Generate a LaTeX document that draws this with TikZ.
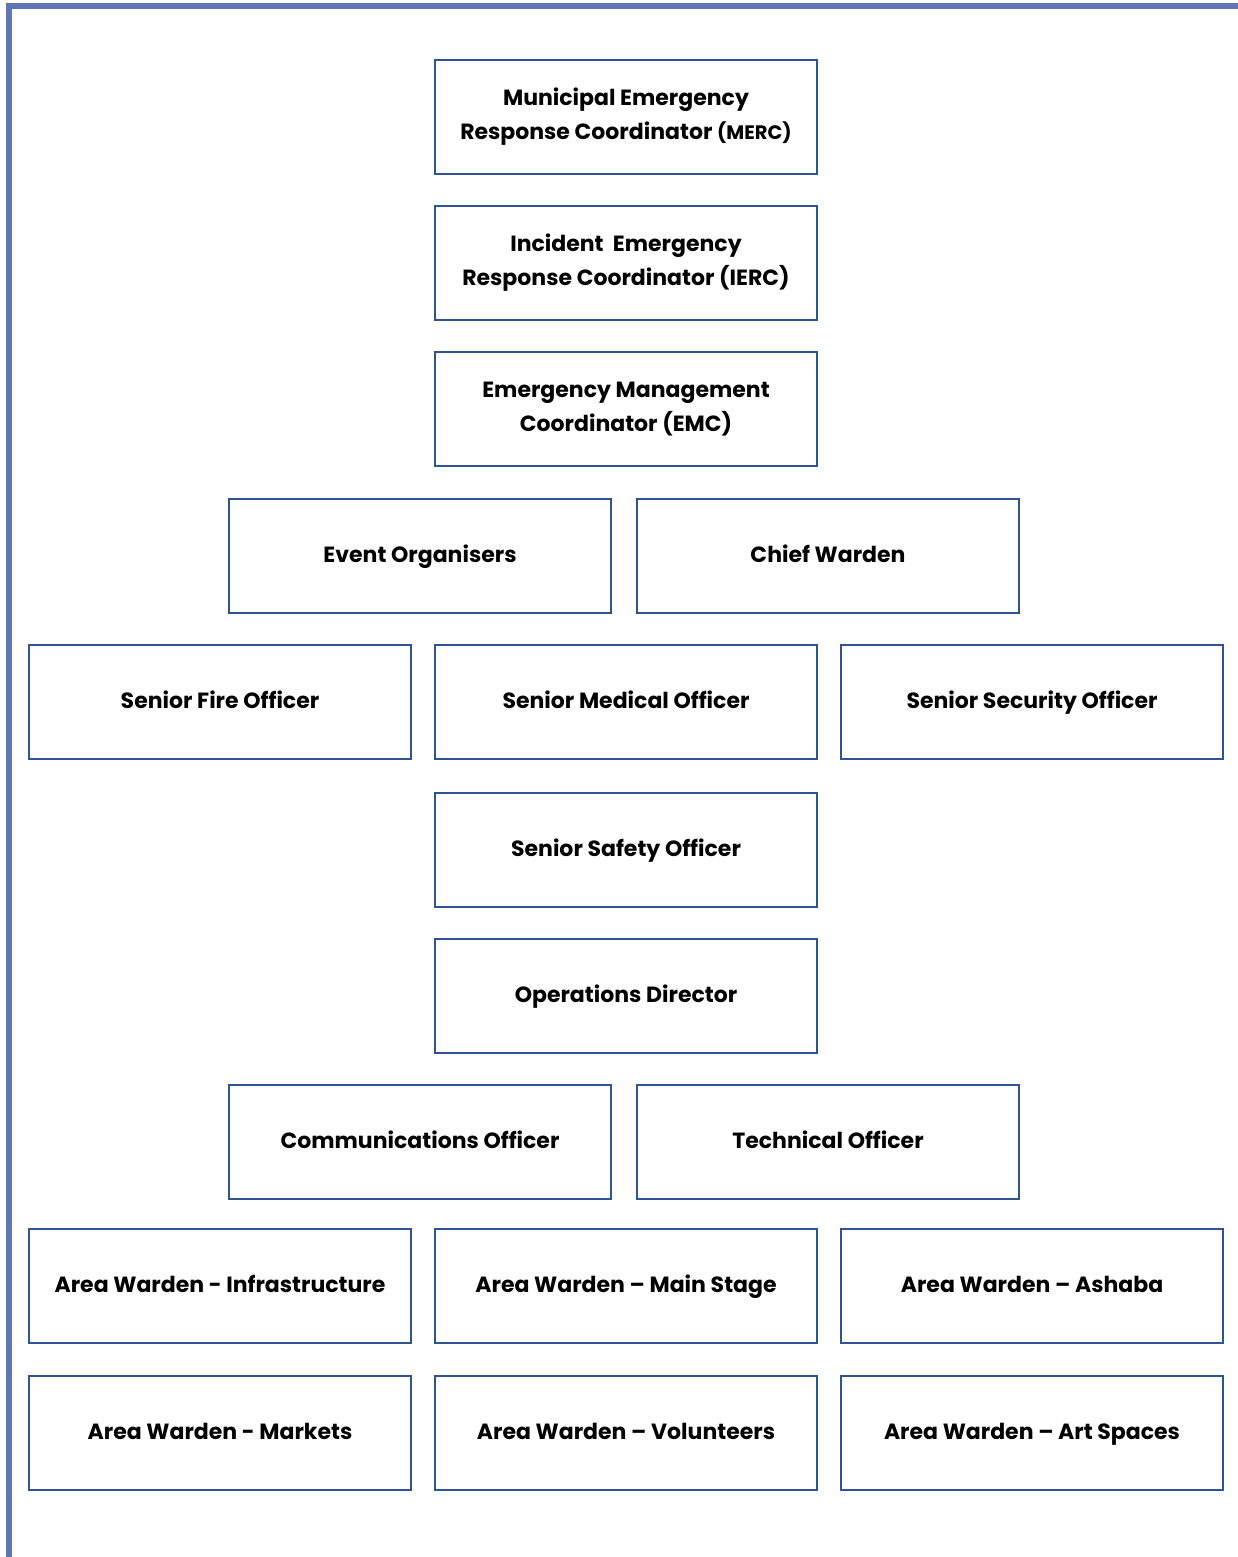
\documentclass[tikz,border=0pt]{standalone}
\usepackage{fontspec}
\setmainfont{Poppins}
\usepackage{xcolor}
\usepackage{tikz}
\usetikzlibrary{positioning}
\definecolor{framblue}{RGB}{96,117,184}
\definecolor{boxblue}{RGB}{47,84,150}
\tikzset{
  role/.style={rectangle, draw=boxblue, line width=2pt, minimum width=382pt, minimum height=114pt, inner sep=0pt, align=center, font=\fontsize{22}{34}\selectfont\bfseries},
  oneline/.style={role, text height=1.2em, text depth=0pt},
  frameline/.style={draw=framblue, line width=6pt}
}
\begin{document}
\begin{tikzpicture}[x=1pt, y=-1pt]
  \useasboundingbox (0,0) rectangle (1238,1557);
  % page frame
  \draw[frameline] (9,1557) -- (9,6) -- (1238,6);

  % top chain
  \node[role] (merc) at (626,117) {Municipal Emergency\\Response Coordinator {\fontsize{19.5}{34}\selectfont(MERC)}};
  \node[role] (ierc) at (626,263) {Incident\ \ Emergency\\Response Coordinator (IERC)};
  \node[role] (emc) at (626,409) {Emergency Management\\Coordinator (EMC)};

  \node[oneline] (organisers) at (420,556) {Event Organisers};
  \node[oneline] (chief) at (828,556) {Chief Warden};

  % senior officers
  \node[oneline] (fire) at (220,702) {Senior Fire Officer};
  \node[oneline] (medical) at (626,702) {Senior Medical Officer};
  \node[oneline] (security) at (1032,702) {Senior Security Officer};
  \node[oneline] (safety) at (626,850) {Senior Safety Officer};

  \node[oneline] (operations) at (626,996) {Operations Director};
  \node[oneline] (comms) at (420,1142) {Communications Officer};
  \node[oneline] (technical) at (828,1142) {Technical Officer};

  % area wardens
  \node[oneline] (infra) at (220,1286) {Area Warden - Infrastructure};
  \node[oneline] (stage) at (626,1286) {Area Warden -- Main Stage};
  \node[oneline] (ashaba) at (1032,1286) {Area Warden -- Ashaba};
  \node[oneline] (markets) at (220,1433) {Area Warden - Markets};
  \node[oneline] (volunteers) at (626,1433) {Area Warden -- Volunteers};
  \node[oneline] (artspaces) at (1032,1433) {Area Warden -- Art Spaces};
\end{tikzpicture}
\end{document}
